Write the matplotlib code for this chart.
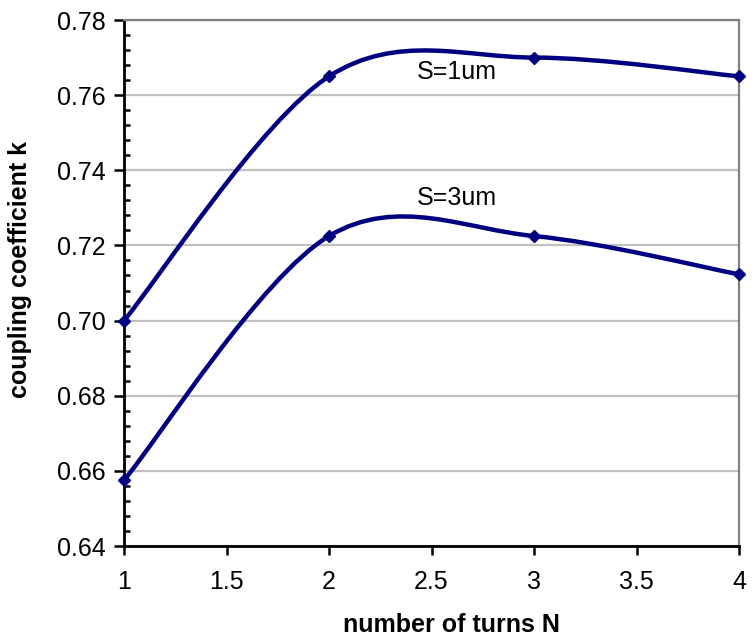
import numpy as np
import matplotlib
matplotlib.use("Agg")
import matplotlib.pyplot as plt
from matplotlib.path import Path
from matplotlib.patches import PathPatch
from matplotlib.ticker import MultipleLocator

turns = [1, 2, 3, 4]
k_s1 = [0.700, 0.765, 0.770, 0.765]
k_s3 = [0.6575, 0.7225, 0.7225, 0.7123]
series_labels = ["S=1um", "S=3um"]
x_ticks = [1, 1.5, 2, 2.5, 3, 3.5, 4]
x_tick_labels = ["1", "1.5", "2", "2.5", "3", "3.5", "4"]
y_ticks = [0.64, 0.66, 0.68, 0.70, 0.72, 0.74, 0.76, 0.78]
y_tick_labels = ["0.64", "0.66", "0.68", "0.70", "0.72", "0.74", "0.76", "0.78"]

NAVY = "#000080"
plt.rcParams['font.family'] = ['Liberation Sans', 'DejaVu Sans']

fig = plt.figure(figsize=(7.55, 6.4), dpi=100)
ax = fig.add_axes([124/755, 94/640, (739-124)/755, (546-20)/640])
ax.set_xlim(1, 4)
ax.set_ylim(0.64, 0.78)


def smooth_path(xs, ys):
    """Excel-like smoothed line: cubic Bezier through the points (Catmull-Rom)."""
    pts = np.column_stack([xs, ys]).astype(float)
    n = len(pts)
    verts = [tuple(pts[0])]
    codes = [Path.MOVETO]
    for i in range(n - 1):
        p0 = pts[i - 1] if i > 0 else pts[i]
        p1 = pts[i]
        p2 = pts[i + 1]
        p3 = pts[i + 2] if i + 2 < n else pts[i + 1]
        c1 = p1 + (p2 - p0) / 6.0
        c2 = p2 - (p3 - p1) / 6.0
        verts += [tuple(c1), tuple(c2), tuple(p2)]
        codes += [Path.CURVE4] * 3
    return Path(verts, codes)


for ys in (k_s1, k_s3):
    patch = PathPatch(smooth_path(turns, ys), facecolor="none", edgecolor=NAVY,
                      lw=3.2, transform=ax.transData, zorder=3, capstyle="round",
                      joinstyle="round")
    ax.add_patch(patch)
    ax.plot(turns, ys, linestyle="none", marker="D", ms=6.5, mfc=NAVY, mec=NAVY,
            mew=1, zorder=4, clip_on=False)

ax.text(2.43, 0.7662, series_labels[0], fontsize=18, ha="left", va="center", zorder=5)
ax.text(2.43, 0.7326, series_labels[1], fontsize=18, ha="left", va="center", zorder=5)

ax.set_yticks(y_ticks)
ax.set_yticklabels(y_tick_labels, fontsize=18)
ax.set_xticks(x_ticks)
ax.set_xticklabels(x_tick_labels, fontsize=18)
ax.yaxis.set_minor_locator(MultipleLocator(0.004))
ax.yaxis.grid(True, which="major", color="#c0c0c0", lw=1.6, zorder=0)
ax.set_axisbelow(True)

ax.tick_params(axis="y", which="major", direction="out", length=7.2, width=1.8,
               color="black", pad=5.8)
ax.tick_params(axis="y", which="minor", direction="in", length=4.5, width=1.8,
               color="black")
ax.tick_params(axis="x", which="major", direction="out", length=6.5, width=1.8,
               color="black", pad=10.5)

for side in ("left", "bottom"):
    ax.spines[side].set_color("black")
    ax.spines[side].set_linewidth(2.0)
for side in ("right", "top"):
    ax.spines[side].set_color("#808080")
    ax.spines[side].set_linewidth(1.6)

ax.set_xlabel("number of turns N", fontsize=18, fontweight="bold")
ax.xaxis.set_label_coords(0.533, -0.128)
ax.set_ylabel("coupling coefficient k", fontsize=18, fontweight="bold")
ax.yaxis.set_label_coords(-0.150, 0.525)

fig.savefig("out.png", dpi=100)
